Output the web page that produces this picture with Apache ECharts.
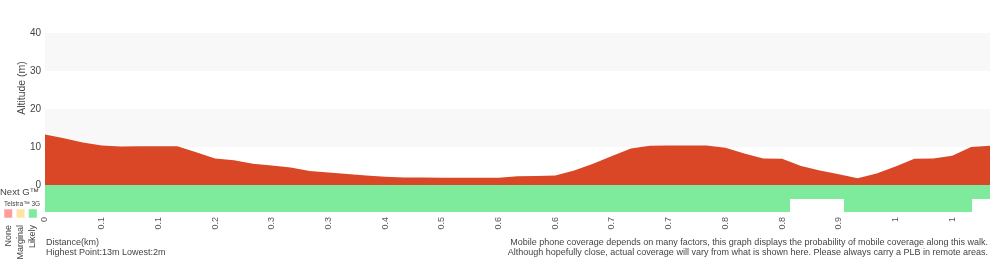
<!DOCTYPE html>
<html>
<head>
<meta charset="utf-8">
<script src="https://cdn.jsdelivr.net/npm/echarts@6/dist/echarts.min.js"></script>
<style>
html,body{margin:0;padding:0;background:#fff;}
#c{width:1000px;height:260px;}
</style>
</head>
<body>
<div id="c"></div>
<script>
// Elevation (m) at each sample point along the walk
const elevation = [13.3, 12.3, 11.2, 10.4, 10.1, 10.2, 10.2, 10.2, 8.6, 7.0,
  6.5, 5.6, 5.1, 4.6, 3.7, 3.3, 2.9, 2.5, 2.2, 2.0,
  2.0, 1.9, 1.9, 1.9, 1.9, 2.3, 2.4, 2.5, 3.8, 5.6,
  7.6, 9.6, 10.3, 10.4, 10.4, 10.4, 9.8, 8.3, 7.0, 6.9,
  5.0, 3.8, 2.8, 1.8, 3.0, 4.9, 6.9, 7.0, 7.7, 10.0, 10.3];
// Distance tick labels (km), shown every 3rd sample
const tickLabels = ['0', '0.1', '0.1', '0.2', '0.3', '0.3', '0.4', '0.5', '0.6', '0.6', '0.7', '0.7', '0.8', '0.8', '0.9', '1', '1'];
// Coverage segments in sample-index units: [start, end, level]
const coverageNextG = [[0, 50, 'Likely']];
const coverage3G = [[0, 39.4, 'Likely'], [42.3, 49.05, 'Likely']];
const coverageLevels = ['None', 'Marginal', 'Likely'];
const levelColors = {None: '#ff9c9c', Marginal: '#ffe3a0', Likely: '#7deb9b'};
const yTicks = [0, 10, 20, 30, 40];

const categories = elevation.map((_, i) => String(i));
const coverageData = [];
coverage3G.forEach(s => coverageData.push([s[0], s[1], 0, s[2]]));
coverageNextG.forEach(s => coverageData.push([s[0], s[1], 1, s[2]]));

const FONT = '"Liberation Sans", Arial, Helvetica, sans-serif';
const TXT = '#444';

const chart = echarts.init(document.getElementById('c'), null, {renderer: 'canvas'});
chart.setOption({
  animation: false,
  textStyle: {fontFamily: FONT},
  grid: [
    {left: 45, right: 10, top: 33, height: 152},
    {left: 45, right: 10, top: 185, height: 27}
  ],
  xAxis: [
    {type: 'category', gridIndex: 0, data: categories, boundaryGap: false,
     axisLine: {show: false}, axisTick: {show: false}, axisLabel: {show: false}, splitLine: {show: false}},
    {type: 'category', gridIndex: 1, data: categories, boundaryGap: false, position: 'bottom',
     axisLine: {show: false}, axisTick: {show: false}, splitLine: {show: false},
     axisLabel: {interval: 2, rotate: 90, margin: 5, fontSize: 9, color: '#555', fontFamily: FONT,
       formatter: (v, i) => tickLabels[i / 3] !== undefined ? tickLabels[i / 3] : ''}},
    {type: 'value', gridIndex: 1, min: 0, max: elevation.length - 1, show: false, position: 'top'}
  ],
  yAxis: [
    {type: 'value', gridIndex: 0, min: yTicks[0], max: yTicks[yTicks.length - 1], interval: 10,
     axisLine: {show: false}, axisTick: {show: false}, splitLine: {show: false},
     splitArea: {show: true, areaStyle: {color: ['#ffffff', '#f8f8f8']}},
     axisLabel: {fontSize: 10, color: TXT, margin: 4, fontFamily: FONT}},
    {type: 'value', gridIndex: 1, min: 0, max: 2, show: false}
  ],
  series: [
    {type: 'line', xAxisIndex: 0, yAxisIndex: 0, data: elevation, symbol: 'none',
     lineStyle: {width: 0, color: '#d94727'}, areaStyle: {color: '#d94727', opacity: 1}},
    {type: 'custom', xAxisIndex: 2, yAxisIndex: 1, data: coverageData,
     renderItem: (params, api) => {
       const p0 = api.coord([api.value(0), api.value(2) + 1]);
       const p1 = api.coord([api.value(1), api.value(2)]);
       const x0 = Math.round(p0[0]), x1 = Math.round(p1[0]);
       const y0 = Math.round(p0[1]), y1 = Math.round(p1[1]);
       const lvl = coverageData[params.dataIndex][3];
       return {type: 'rect', shape: {x: x0, y: y0, width: x1 - x0, height: y1 - y0},
               style: {fill: levelColors[lvl]}};
     }}
  ],
  graphic: [
    {type: 'text', x: 22, y: 88, rotation: Math.PI / 2,
     style: {text: 'Altitude (m)', font: '10.5px ' + FONT, fill: TXT, align: 'center', verticalAlign: 'middle'}},
    {type: 'text', x: 0, y: 192,
     style: {text: 'Next G™', font: '9.5px ' + FONT, fill: TXT, align: 'left', verticalAlign: 'middle'}},
    {type: 'text', x: 4, y: 204,
     style: {text: 'Telstra™ 3G', font: '6.5px ' + FONT, fill: TXT, align: 'left', verticalAlign: 'middle'}},
    ...coverageLevels.map((lv, k) => ({type: 'rect', shape: {x: 4 + k * 12.3, y: 209, width: 8.5, height: 9},
      style: {fill: levelColors[lv], stroke: 'rgba(255,255,255,0.5)', lineWidth: 1}})),
    ...coverageLevels.map((lv, k) => ({type: 'text', x: 9 + k * 12, y: 225, rotation: Math.PI / 2,
      style: {text: lv, font: '9px ' + FONT, fill: TXT, align: 'right', verticalAlign: 'middle'}})),
    {type: 'text', x: 46, y: 243,
     style: {text: 'Distance(km)', font: '9px ' + FONT, fill: TXT, align: 'left', verticalAlign: 'middle'}},
    {type: 'text', x: 46, y: 253,
     style: {text: 'Highest Point:13m Lowest:2m', font: '9px ' + FONT, fill: TXT, align: 'left', verticalAlign: 'middle'}},
    {type: 'text', x: 988, y: 243,
     style: {text: 'Mobile phone coverage depends on many factors, this graph displays the probability of mobile coverage along this walk.', font: '9px ' + FONT, fill: TXT, align: 'right', verticalAlign: 'middle'}},
    {type: 'text', x: 988, y: 253,
     style: {text: 'Although hopefully close, actual coverage will vary from what is shown here. Please always carry a PLB in remote areas.', font: '9px ' + FONT, fill: TXT, align: 'right', verticalAlign: 'middle'}}
  ]
});
</script>
</body>
</html>
